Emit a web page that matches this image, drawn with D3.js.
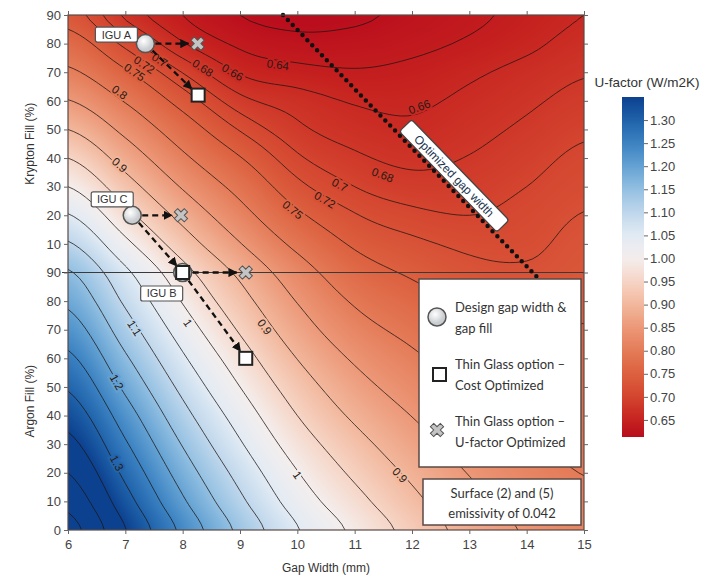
<!DOCTYPE html>
<html lang="en">
<head>
<meta charset="UTF-8">
<title>U-factor vs gap width and gas fill</title>
<script src="https://d3js.org/d3.v7.min.js"></script>
<style>
    body{ margin:0; background:#fff; }
    svg{ display:block; font-family:'Liberation Sans', Arial, sans-serif; }
    .tick text{ font-size:13px; fill:#444; }
    .tick line, .domain{ stroke:#666; }
    .legend-text{ font-family:Lato, 'Open Sans', sans-serif; font-size:13px; fill:#333; }
</style>
</head>
<body>
<svg id="chart" width="713" height="576"></svg>
<script>

// ---- data ----
var gapWidth = [6, 7, 8, 9, 10, 11, 12, 13, 14, 15];   // mm
var argonFill = [0, 10, 20, 30, 40, 50, 60, 70, 80, 90];  // %
var kryptonFill = [10, 20, 30, 40, 50, 60, 70, 80, 90];   // %

// U-factor (W/m2K): one row per fill level, one column per gap width
var uArgon = [
    [1.470, 1.352, 1.238, 1.138, 1.053, 0.990, 0.933, 0.882, 0.845, 0.818],
    [1.435, 1.320, 1.207, 1.110, 1.027, 0.966, 0.912, 0.865, 0.832, 0.809],
    [1.400, 1.288, 1.177, 1.083, 1.002, 0.941, 0.891, 0.848, 0.818, 0.799],
    [1.365, 1.256, 1.147, 1.055, 0.976, 0.917, 0.870, 0.831, 0.805, 0.790],
    [1.330, 1.224, 1.117, 1.028, 0.950, 0.892, 0.849, 0.814, 0.791, 0.780],
    [1.295, 1.190, 1.087, 1.000, 0.925, 0.868, 0.828, 0.797, 0.778, 0.771],
    [1.260, 1.157, 1.057, 0.973, 0.899, 0.844, 0.808, 0.779, 0.764, 0.762],
    [1.225, 1.124, 1.027, 0.945, 0.873, 0.819, 0.787, 0.762, 0.751, 0.752],
    [1.190, 1.092, 0.997, 0.918, 0.848, 0.795, 0.766, 0.745, 0.737, 0.743],
    [1.155, 1.060, 0.967, 0.890, 0.822, 0.770, 0.745, 0.728, 0.724, 0.733]
];
var uKrypton = [
    [1.105, 1.012, 0.925, 0.852, 0.789, 0.745, 0.726, 0.715, 0.715, 0.728],
    [1.053, 0.965, 0.885, 0.817, 0.757, 0.722, 0.706, 0.700, 0.708, 0.721],
    [1.000, 0.921, 0.846, 0.785, 0.728, 0.700, 0.688, 0.690, 0.700, 0.713],
    [0.950, 0.879, 0.809, 0.752, 0.704, 0.684, 0.675, 0.681, 0.692, 0.705],
    [0.900, 0.838, 0.773, 0.718, 0.685, 0.670, 0.664, 0.673, 0.684, 0.696],
    [0.852, 0.797, 0.736, 0.687, 0.670, 0.658, 0.656, 0.665, 0.676, 0.687],
    [0.808, 0.755, 0.699, 0.658, 0.647, 0.642, 0.646, 0.656, 0.667, 0.678],
    [0.770, 0.713, 0.662, 0.636, 0.627, 0.628, 0.634, 0.643, 0.655, 0.668],
    [0.735, 0.676, 0.640, 0.620, 0.613, 0.616, 0.626, 0.635, 0.647, 0.660]
];

var contourLevels = [0.62, 0.64, 0.66, 0.68, 0.70, 0.72, 0.75, 0.80, 0.85, 0.90, 0.95,
    1.00, 1.05, 1.10, 1.15, 1.20, 1.25, 1.30, 1.35, 1.40, 1.45];

var contourLabels = [
    {text:"0.75", gap:7.16, gas:"Kr", fill:70}, {text:"0.72", gap:7.33, gas:"Kr", fill:72.6},
    {text:"0.7", gap:7.6, gas:"Kr", fill:74.3}, {text:"0.68", gap:8.35, gas:"Kr", fill:71.5},
    {text:"0.66", gap:8.87, gas:"Kr", fill:70}, {text:"0.64", gap:9.66, gas:"Kr", fill:72.6},
    {text:"0.8", gap:6.9, gas:"Kr", fill:63}, {text:"0.9", gap:6.9, gas:"Kr", fill:37.6},
    {text:"0.75", gap:9.92, gas:"Kr", fill:21.9}, {text:"0.72", gap:10.48, gas:"Kr", fill:25.4},
    {text:"0.7", gap:10.74, gas:"Kr", fill:30.6}, {text:"0.68", gap:11.49, gas:"Kr", fill:34.1},
    {text:"0.66", gap:12.13, gas:"Kr", fill:57.9},
    {text:"1.1", gap:7.16, gas:"Ar", fill:70.6}, {text:"1.2", gap:6.85, gas:"Ar", fill:51.7},
    {text:"1.3", gap:6.85, gas:"Ar", fill:23.4}, {text:"1", gap:8.09, gas:"Ar", fill:72.4},
    {text:"0.9", gap:9.43, gas:"Ar", fill:71}, {text:"1", gap:10.0, gas:"Ar", fill:19.2},
    {text:"0.9", gap:11.79, gas:"Ar", fill:19.2}
];

// design points, thin glass options
var designPoints = [
    {name:"IGU A", gap:7.35, gas:"Kr", fill:80},
    {name:"IGU C", gap:7.12, gas:"Kr", fill:20},
    {name:"IGU B", gap:8.0, gas:"Ar", fill:90}
];
var costOptimized = [
    {from:"IGU A", gap:8.27, gas:"Kr", fill:62},
    {from:"IGU C", gap:8.0, gas:"Ar", fill:90},
    {from:"IGU B", gap:9.1, gas:"Ar", fill:60}
];
var uOptimized = [
    {from:"IGU A", gap:8.26, gas:"Kr", fill:80},
    {from:"IGU C", gap:7.97, gas:"Kr", fill:20},
    {from:"IGU B", gap:9.1, gas:"Ar", fill:90}
];
var optimizedGap = [
    {gap:9.75, gas:"Kr", fill:90},
    {gap:14.2, gas:"Ar", fill:88}
];

var colorbarTicks = [0.65, 0.70, 0.75, 0.80, 0.85, 0.90, 0.95, 1.00, 1.05, 1.10, 1.15, 1.20, 1.25, 1.30];

// ---- scales ----
var svg = d3.select("#chart");
var x = d3.scaleLinear().domain([6, 15]).range([68, 584]);
var y = d3.scaleLinear().domain([0, 180]).range([530, 15]);   // argon 0-90, then krypton 10-90
function yPos(gas, fill){ return y(gas === "Ar" ? fill : 90 + fill); }

var color = d3.scaleLinear()
    .domain([0.613, 0.65, 0.70, 0.75, 0.80, 0.85, 0.90, 0.95, 1.00, 1.05, 1.10, 1.15, 1.20, 1.25, 1.30, 1.35])
    .range(["#b90c1d", "#c6221f", "#d4452f", "#dc603f", "#e47b58", "#ec9878", "#f2b79c", "#f6d5c6",
            "#f4eeed", "#e2ebf4", "#bfd7ec", "#93c0e2", "#64a2d3", "#3b82c2", "#1f62aa", "#0c418f"])
    .clamp(true);

// field on the chart grid (19 rows x 10 columns), read with a cubic kernel
var grid = uArgon.concat(uKrypton);
function cubic(p0, p1, p2, p3, t){
    return p1 + 0.5 * t * (p2 - p0 + t * (2*p0 - 5*p1 + 4*p2 - p3 + t * (3*(p1 - p2) + p3 - p0)));
}
function cell(j, i){
    j = Math.max(0, Math.min(grid.length - 1, j));
    i = Math.max(0, Math.min(gapWidth.length - 1, i));
    return grid[j][i];
}
function uAt(g, r){
    var gx = g - gapWidth[0], i = Math.max(0, Math.min(gapWidth.length - 2, Math.floor(gx)));
    var j = Math.max(0, Math.min(grid.length - 2, Math.floor(r)));
    var tx = gx - i, ty = r - j, col = [];
    for (var dj = -1; dj <= 2; dj++){
        col.push(cubic(cell(j+dj, i-1), cell(j+dj, i), cell(j+dj, i+1), cell(j+dj, i+2), tx));
    }
    return cubic(col[0], col[1], col[2], col[3], ty);
}
function uPix(px, py){ return uAt(x.invert(px), y.invert(py) / 10); }

// ---- filled background (canvas -> image) ----
var W = 516, H = 515;
var canvas = document.createElement("canvas");
canvas.width = W; canvas.height = H;
var ctx = canvas.getContext("2d");
var img = ctx.createImageData(W, H);
for (var py = 0; py < H; py++){
    for (var px = 0; px < W; px++){
        var c = d3.rgb(color(uPix(68 + px + 0.5, 15 + py + 0.5)));
        var k = (py * W + px) * 4;
        img.data[k] = c.r; img.data[k+1] = c.g; img.data[k+2] = c.b; img.data[k+3] = 255;
    }
}
ctx.putImageData(img, 0, 0);

svg.append("defs").append("clipPath").attr("id", "plot-clip")
    .append("rect").attr("x", 68).attr("y", 15).attr("width", W).attr("height", H);

svg.append("image")
    .attr("x", 68).attr("y", 15).attr("width", W).attr("height", H)
    .attr("preserveAspectRatio", "none")
    .attr("href", canvas.toDataURL());

// ---- contour lines ----
var nx = 91, ny = 91, fine = new Array(nx * ny);
for (var j = 0; j < ny; j++){
    for (var i = 0; i < nx; i++){
        fine[i + j * nx] = uAt(6 + i / 10, j / 5);
    }
}
var contours = d3.contours().size([nx, ny]).thresholds(contourLevels)(fine);
var toPlot = d3.geoTransform({point: function(cx, cy){
    this.stream.point(x(6 + (cx - 0.5) / 10), y((cy - 0.5) / 5 * 10));
}});
svg.append("g")
    .attr("clip-path", "url(#plot-clip)")
    .selectAll("path")
    .data(contours)
    .join("path")
    .attr("d", d3.geoPath(toPlot))
    .attr("fill", "none")
    .attr("stroke", "#1e1512")
    .attr("stroke-opacity", 0.85)
    .attr("stroke-width", 0.9);

// divider between argon and krypton sections
svg.append("line")
    .attr("x1", 62).attr("x2", 584)
    .attr("y1", y(90)).attr("y2", y(90))
    .attr("stroke", "#3a3a3a").attr("stroke-width", 1);

// contour labels, turned along the line
svg.append("g").selectAll("text")
    .data(contourLabels)
    .join("text")
    .attr("transform", function(d){
        var px = x(d.gap), py = yPos(d.gas, d.fill);
        var dx = uPix(px + 1, py) - uPix(px - 1, py);
        var dy = uPix(px, py + 1) - uPix(px, py - 1);
        var a = Math.atan2(dx, -dy) * 180 / Math.PI;
        if (a > 90) a -= 180;
        if (a < -90) a += 180;
        return "translate(" + px + "," + py + ") rotate(" + a + ")";
    })
    .attr("text-anchor", "middle")
    .attr("dy", "0.35em")
    .style("font-size", "11.5px")
    .style("paint-order", "stroke")
    .attr("stroke", function(d){ return color(uAt(d.gap, (d.gas === "Ar" ? d.fill : 90 + d.fill) / 10)); })
    .attr("stroke-width", 4)
    .attr("fill", "#2a1a16")
    .text(function(d){ return d.text; });

// ---- optimized gap width (dotted) ----
var og = optimizedGap.map(function(d){ return [x(d.gap), yPos(d.gas, d.fill)]; });
svg.append("line")
    .attr("x1", og[0][0]).attr("y1", og[0][1])
    .attr("x2", og[1][0]).attr("y2", og[1][1])
    .attr("stroke", "#111").attr("stroke-width", 4.5)
    .attr("stroke-linecap", "round").attr("stroke-dasharray", "0 7");

var ang = Math.atan2(og[1][1] - og[0][1], og[1][0] - og[0][0]);
var t = 0.64;
var cxLbl = og[0][0] + t * (og[1][0] - og[0][0]) + 11 * Math.sin(ang);
var cyLbl = og[0][1] + t * (og[1][1] - og[0][1]) - 11 * Math.cos(ang);
var optLbl = svg.append("g")
    .attr("transform", "translate(" + cxLbl + "," + cyLbl + ") rotate(" + ang * 180 / Math.PI + ")");
optLbl.append("rect")
    .attr("x", -70).attr("y", -8.5).attr("width", 140).attr("height", 17).attr("rx", 3)
    .attr("fill", "#fff").attr("stroke", "#444").attr("stroke-width", 1.2);
optLbl.append("text")
    .attr("text-anchor", "middle").attr("dy", "0.36em")
    .style("font-size", "12px").attr("fill", "#1c3550")
    .text("Optimized gap width");

// ---- frame and axes ----
svg.append("rect")
    .attr("x", 68).attr("y", 15).attr("width", W).attr("height", H)
    .attr("fill", "none").attr("stroke", "#5a4a45").attr("stroke-width", 1.2);

svg.append("g")
    .attr("transform", "translate(0,530)")
    .call(d3.axisBottom(x).tickValues(gapWidth).tickSize(4).tickPadding(6))
    .call(function(g){ g.select(".domain").remove(); });
svg.append("g")
    .attr("transform", "translate(0,15)")
    .call(d3.axisTop(x).tickValues(gapWidth).tickSize(4).tickFormat(""))
    .call(function(g){ g.select(".domain").remove(); });

var yTicks = argonFill.concat(kryptonFill.map(function(v){ return 90 + v; }));
svg.append("g")
    .attr("transform", "translate(68,0)")
    .call(d3.axisLeft(y).tickValues(yTicks).tickSize(4).tickPadding(3)
        .tickFormat(function(v){ return v <= 90 ? v : v - 90; }))
    .call(function(g){ g.select(".domain").remove(); });
svg.append("g")
    .attr("transform", "translate(584,0)")
    .call(d3.axisRight(y).tickValues(yTicks).tickSize(4).tickFormat(""))
    .call(function(g){ g.select(".domain").remove(); });

svg.append("text")
    .attr("transform", "translate(34," + y(90 + 45) + ") rotate(-90)")
    .attr("text-anchor", "middle").style("font-size", "12px").attr("fill", "#333")
    .text("Krypton Fill (%)");
svg.append("text")
    .attr("transform", "translate(34," + y(45) + ") rotate(-90)")
    .attr("text-anchor", "middle").style("font-size", "12px").attr("fill", "#333")
    .text("Argon Fill (%)");
svg.append("text")
    .attr("x", x(10.5)).attr("y", 572)
    .attr("text-anchor", "middle").style("font-size", "12px").attr("fill", "#333")
    .text("Gap Width (mm)");

// ---- IGU paths ----
var defs = svg.select("defs");
defs.append("marker")
    .attr("id", "arrow").attr("viewBox", "0 0 10 10")
    .attr("refX", 9).attr("refY", 5)
    .attr("markerWidth", 4).attr("markerHeight", 4)
    .attr("orient", "auto")
    .append("path").attr("d", "M0,0 L10,5 L0,10 z").attr("fill", "#111");

var ball = defs.append("radialGradient").attr("id", "ball").attr("cx", "40%").attr("cy", "35%");
ball.append("stop").attr("offset", "0%").attr("stop-color", "#ffffff");
ball.append("stop").attr("offset", "100%").attr("stop-color", "#c9cdd0");

function pos(d){ return [x(d.gap), yPos(d.gas, d.fill)]; }
function byName(n){ return designPoints.filter(function(d){ return d.name === n; })[0]; }

var arrows = svg.append("g");
costOptimized.concat(uOptimized).forEach(function(d){
    var a = pos(byName(d.from)), b = pos(d);
    var L = Math.hypot(b[0] - a[0], b[1] - a[1]);
    var ux = (b[0] - a[0]) / L, uy = (b[1] - a[1]) / L;
    arrows.append("line")
        .attr("x1", a[0] + ux * 10).attr("y1", a[1] + uy * 10)
        .attr("x2", b[0] - ux * 9).attr("y2", b[1] - uy * 9)
        .attr("stroke", "#111").attr("stroke-width", 2.3)
        .attr("stroke-dasharray", "6 4")
        .attr("marker-end", "url(#arrow)");
});

svg.append("g").selectAll("circle")
    .data(designPoints)
    .join("circle")
    .attr("cx", function(d){ return pos(d)[0]; })
    .attr("cy", function(d){ return pos(d)[1]; })
    .attr("r", 9)
    .attr("fill", "url(#ball)").attr("stroke", "#555").attr("stroke-width", 1.5);

svg.append("g").selectAll("rect")
    .data(costOptimized)
    .join("rect")
    .attr("x", function(d){ return pos(d)[0] - 6.5; })
    .attr("y", function(d){ return pos(d)[1] - 6.5; })
    .attr("width", 13).attr("height", 13)
    .attr("fill", "#fff").attr("stroke", "#222").attr("stroke-width", 2);

var xMark = d3.symbol().type(d3.symbolCross).size(110);
svg.append("g").selectAll("path")
    .data(uOptimized)
    .join("path")
    .attr("transform", function(d){ var p = pos(d); return "translate(" + p[0] + "," + p[1] + ") rotate(45)"; })
    .attr("d", xMark)
    .attr("fill", "#c4c4c4").attr("stroke", "#555").attr("stroke-width", 1);

// name tags
var tagOffset = {"IGU A": [-29, -9], "IGU C": [-20, -16], "IGU B": [-21, 21]};
var tags = svg.append("g").selectAll("g")
    .data(designPoints)
    .join("g")
    .attr("transform", function(d){
        var p = pos(d), o = tagOffset[d.name];
        return "translate(" + (p[0] + o[0]) + "," + (p[1] + o[1]) + ")";
    });
tags.append("rect")
    .attr("x", -21).attr("y", -7.5).attr("width", 42).attr("height", 15).attr("rx", 2)
    .attr("fill", "#fff").attr("stroke", "#555").attr("stroke-width", 1.2);
tags.append("text")
    .attr("text-anchor", "middle").attr("dy", "0.36em")
    .style("font-size", "11px").attr("fill", "#333")
    .text(function(d){ return d.name; });

// ---- legend ----
var leg = svg.append("g");
leg.append("rect").attr("x", 419).attr("y", 279).attr("width", 162).attr("height", 188)
    .attr("fill", "#fff").attr("stroke", "#5a4a45").attr("stroke-width", 1.5);
leg.append("circle").attr("cx", 437).attr("cy", 317).attr("r", 9)
    .attr("fill", "url(#ball)").attr("stroke", "#555").attr("stroke-width", 1.5);
leg.append("rect").attr("x", 433).attr("y", 368).attr("width", 13).attr("height", 13)
    .attr("fill", "#fff").attr("stroke", "#222").attr("stroke-width", 2);
leg.append("path").attr("transform", "translate(437,430) rotate(45)").attr("d", xMark)
    .attr("fill", "#c4c4c4").attr("stroke", "#555").attr("stroke-width", 1);
var legLines = [["Design gap width &", 312], ["gap fill", 333], ["Thin Glass option \u2013", 369],
    ["Cost Optimized", 390], ["Thin Glass option \u2013", 426], ["U-factor Optimized", 447]];
leg.selectAll("text.l").data(legLines).join("text")
    .attr("class", "legend-text")
    .attr("x", 455).attr("y", function(d){ return d[1]; })
    .text(function(d){ return d[0]; });

leg.append("rect").attr("x", 423).attr("y", 479).attr("width", 158).attr("height", 46)
    .attr("fill", "#fff").attr("stroke", "#5a4a45").attr("stroke-width", 1.5);
leg.selectAll("text.n").data([["Surface (2) and (5)", 498], ["emissivity of 0.042", 518]]).join("text")
    .attr("class", "legend-text")
    .attr("x", 502).attr("y", function(d){ return d[1]; })
    .attr("text-anchor", "middle")
    .text(function(d){ return d[0]; });

// ---- colour bar ----
var cb = d3.scaleLinear().domain([0.613, 1.35]).range([437, 97]);
var grad = defs.append("linearGradient").attr("id", "cbar")
    .attr("x1", 0).attr("y1", 1).attr("x2", 0).attr("y2", 0);
d3.range(0, 1.0001, 0.04).forEach(function(f){
    grad.append("stop").attr("offset", f).attr("stop-color", color(0.613 + f * (1.35 - 0.613)));
});
svg.append("rect").attr("x", 622).attr("y", 97).attr("width", 22).attr("height", 340)
    .attr("fill", "url(#cbar)");
svg.append("g")
    .attr("transform", "translate(644,0)")
    .call(d3.axisRight(cb).tickValues(colorbarTicks).tickSize(4).tickPadding(2).tickFormat(d3.format(".2f")))
    .call(function(g){ g.select(".domain").remove(); });
svg.append("text")
    .attr("x", 647).attr("y", 87)
    .attr("text-anchor", "middle").style("font-size", "13.5px").attr("fill", "#333")
    .text("U-factor (W/m2K)");

</script>
</body>
</html>
